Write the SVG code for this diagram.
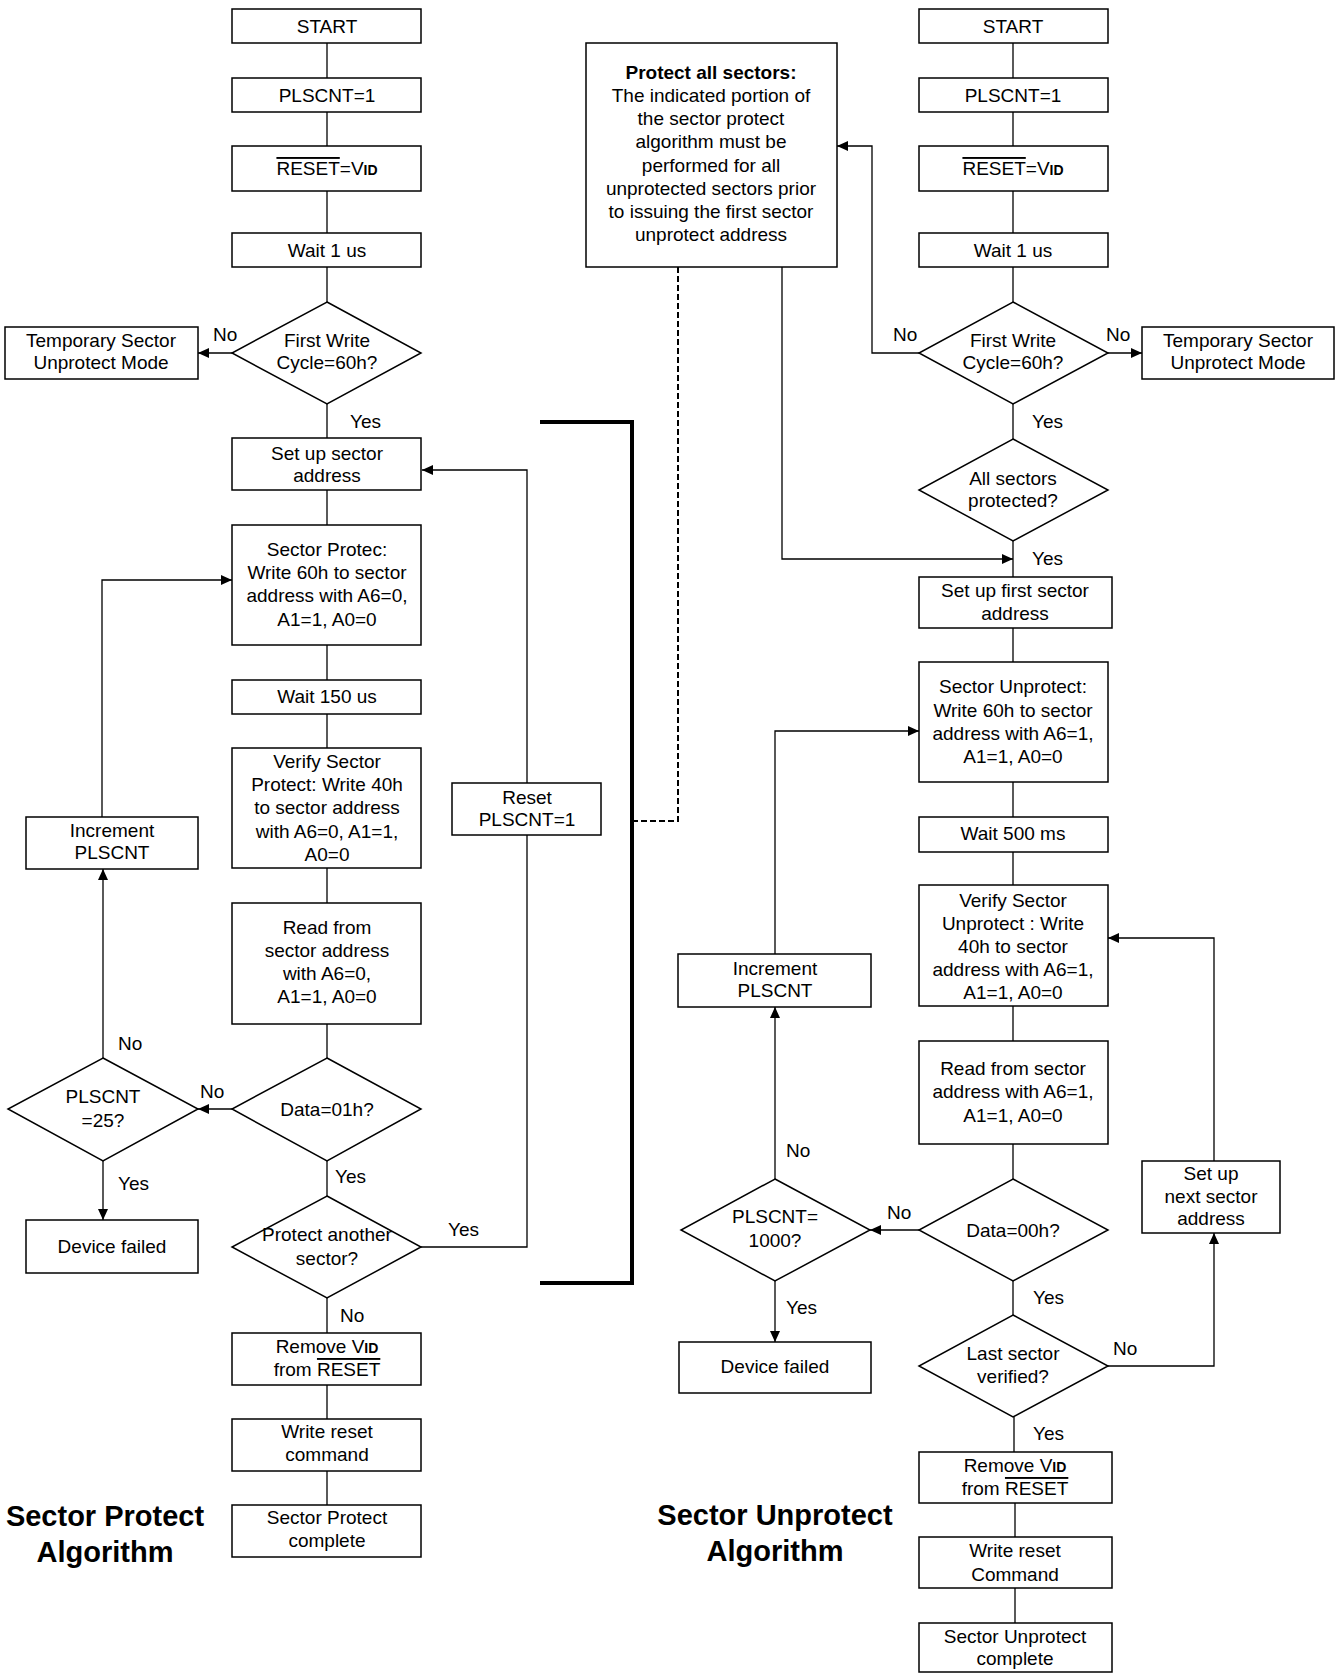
<svg xmlns="http://www.w3.org/2000/svg" width="1340" height="1673" viewBox="0 0 1340 1673">
<style>
.b{fill:#fff;stroke:#000;stroke-width:1.5}
.c{fill:none;stroke:#000;stroke-width:1.3}
.a{fill:none;stroke:#000;stroke-width:1.3;marker-end:url(#ah)}
text{font-family:"Liberation Sans",Arial,sans-serif;font-size:19px;text-anchor:middle;fill:#000}
.l{text-anchor:start}
.t{font-size:29px;font-weight:bold}
.sb{font-size:14px;font-weight:bold}
.ov{text-decoration:overline}
</style>
<defs>
<marker id="ah" markerUnits="userSpaceOnUse" markerWidth="11" markerHeight="10" refX="11" refY="5" orient="auto">
<path d="M0,0 L11,5 L0,10 z" fill="#000"/>
</marker>
</defs>
<rect width="1340" height="1673" fill="#fff"/>

<g id="connectors">
<!-- left column -->
<line class="c" x1="327" y1="43" x2="327" y2="78"/>
<line class="c" x1="327" y1="112" x2="327" y2="146"/>
<line class="c" x1="327" y1="191" x2="327" y2="233"/>
<line class="c" x1="327" y1="267" x2="327" y2="302"/>
<line class="a" x1="232" y1="353" x2="198" y2="353"/>
<line class="c" x1="327" y1="404" x2="327" y2="438"/>
<line class="c" x1="327" y1="490" x2="327" y2="525"/>
<line class="c" x1="327" y1="645" x2="327" y2="680"/>
<line class="c" x1="327" y1="714" x2="327" y2="748"/>
<line class="c" x1="327" y1="868" x2="327" y2="903"/>
<line class="c" x1="327" y1="1024" x2="327" y2="1058"/>
<line class="a" x1="232" y1="1109" x2="198" y2="1109"/>
<line class="a" x1="103" y1="1058" x2="103" y2="869"/>
<polyline class="a" points="102,817 102,580 232,580"/>
<line class="a" x1="103" y1="1161" x2="103" y2="1220"/>
<line class="c" x1="327" y1="1161" x2="327" y2="1196"/>
<polyline class="a" points="421,1247 527,1247 527,470 422,470"/>
<line class="c" x1="327" y1="1298" x2="327" y2="1333"/>
<line class="c" x1="327" y1="1385" x2="327" y2="1419"/>
<line class="c" x1="327" y1="1471" x2="327" y2="1505"/>
<!-- bracket and dashed -->
<polyline points="540,422 632,422 632,1283 540,1283" fill="none" stroke="#000" stroke-width="4"/>
<polyline points="632,821 678,821 678,267" fill="none" stroke="#000" stroke-width="2" stroke-dasharray="6,3"/>
<!-- right column -->
<line class="c" x1="1013" y1="43" x2="1013" y2="78"/>
<line class="c" x1="1013" y1="112" x2="1013" y2="146"/>
<line class="c" x1="1013" y1="191" x2="1013" y2="233"/>
<line class="c" x1="1013" y1="267" x2="1013" y2="302"/>
<line class="a" x1="1108" y1="353" x2="1142" y2="353"/>
<polyline class="a" points="919,353 872,353 872,146 837,146"/>
<line class="c" x1="1013" y1="404" x2="1013" y2="439"/>
<line class="c" x1="1013" y1="541" x2="1013" y2="577"/>
<polyline class="a" points="782,267 782,559 1013,559"/>
<line class="c" x1="1013" y1="628" x2="1013" y2="662"/>
<line class="c" x1="1013" y1="782" x2="1013" y2="817"/>
<line class="c" x1="1013" y1="852" x2="1013" y2="885"/>
<line class="c" x1="1013" y1="1006" x2="1013" y2="1041"/>
<line class="c" x1="1013" y1="1144" x2="1013" y2="1179"/>
<line class="a" x1="919" y1="1230" x2="870" y2="1230"/>
<line class="a" x1="775" y1="1179" x2="775" y2="1007"/>
<polyline class="a" points="775,954 775,731 919,731"/>
<line class="a" x1="775" y1="1281" x2="775" y2="1342"/>
<line class="c" x1="1013" y1="1281" x2="1013" y2="1315"/>
<polyline class="a" points="1108,1366 1214,1366 1214,1233"/>
<polyline class="a" points="1214,1161 1214,938 1108,938"/>
<line class="c" x1="1014" y1="1417" x2="1014" y2="1452"/>
<line class="c" x1="1015" y1="1503" x2="1015" y2="1537"/>
<line class="c" x1="1015" y1="1588" x2="1015" y2="1623"/>
</g>

<g id="edge-labels">
<text class="l" x="213" y="341">No</text>
<text class="l" x="350" y="428">Yes</text>
<text class="l" x="118" y="1050">No</text>
<text class="l" x="200" y="1098">No</text>
<text class="l" x="118" y="1190">Yes</text>
<text class="l" x="335" y="1183">Yes</text>
<text class="l" x="448" y="1236">Yes</text>
<text class="l" x="340" y="1322">No</text>
<text class="l" x="893" y="341">No</text>
<text class="l" x="1106" y="341">No</text>
<text class="l" x="1032" y="428">Yes</text>
<text class="l" x="1032" y="565">Yes</text>
<text class="l" x="786" y="1157">No</text>
<text class="l" x="887" y="1219">No</text>
<text class="l" x="786" y="1314">Yes</text>
<text class="l" x="1033" y="1304">Yes</text>
<text class="l" x="1113" y="1355">No</text>
<text class="l" x="1033" y="1440">Yes</text>
</g>

<!-- Left: Sector Protect -->
<g id="l-start"><rect class="b" x="232" y="9" width="189" height="34"/><text x="327" y="33">START</text></g>
<g id="l-plscnt1"><rect class="b" x="232" y="78" width="189" height="34"/><text x="327" y="102">PLSCNT=1</text></g>
<g id="l-reset"><rect class="b" x="232" y="146" width="189" height="45"/><text x="327" y="175"><tspan class="ov">RESET</tspan>=V<tspan class="sb">ID</tspan></text></g>
<g id="l-wait1"><rect class="b" x="232" y="233" width="189" height="34"/><text x="327" y="257">Wait 1 us</text></g>
<g id="l-firstwrite"><polygon class="b" points="327,302 421,353 327,404 232,353"/><text x="327" y="347">First Write</text><text x="327" y="369">Cycle=60h?</text></g>
<g id="l-temp"><rect class="b" x="5" y="327" width="193" height="52"/><text x="101" y="347">Temporary Sector</text><text x="101" y="369">Unprotect Mode</text></g>
<g id="l-setup"><rect class="b" x="232" y="438" width="189" height="52"/><text x="327" y="460">Set up sector</text><text x="327" y="482">address</text></g>
<g id="l-protec"><rect class="b" x="232" y="525" width="189" height="120"/><text x="327" y="556">Sector Protec:</text><text x="327" y="579">Write 60h to sector</text><text x="327" y="602">address with A6=0,</text><text x="327" y="626">A1=1, A0=0</text></g>
<g id="l-wait150"><rect class="b" x="232" y="680" width="189" height="34"/><text x="327" y="703">Wait 150 us</text></g>
<g id="l-verify"><rect class="b" x="232" y="748" width="189" height="120"/><text x="327" y="768">Verify Sector</text><text x="327" y="791">Protect: Write 40h</text><text x="327" y="814">to sector address</text><text x="327" y="838">with A6=0, A1=1,</text><text x="327" y="861">A0=0</text></g>
<g id="l-increment"><rect class="b" x="26" y="817" width="172" height="52"/><text x="112" y="837">Increment</text><text x="112" y="859">PLSCNT</text></g>
<g id="l-read"><rect class="b" x="232" y="903" width="189" height="121"/><text x="327" y="934">Read from</text><text x="327" y="957">sector address</text><text x="327" y="980">with A6=0,</text><text x="327" y="1003">A1=1, A0=0</text></g>
<g id="l-data01"><polygon class="b" points="327,1058 421,1109 327,1161 232,1109"/><text x="327" y="1116">Data=01h?</text></g>
<g id="l-plscnt25"><polygon class="b" points="103,1058 198,1109 103,1161 8,1109"/><text x="103" y="1103">PLSCNT</text><text x="103" y="1127">=25?</text></g>
<g id="l-failed"><rect class="b" x="26" y="1220" width="172" height="53"/><text x="112" y="1253">Device failed</text></g>
<g id="l-another"><polygon class="b" points="327,1196 421,1247 327,1298 232,1247"/><text x="327" y="1241">Protect another</text><text x="327" y="1265">sector?</text></g>
<g id="l-resetbox"><rect class="b" x="452" y="783" width="149" height="52"/><text x="527" y="804">Reset</text><text x="527" y="826">PLSCNT=1</text></g>
<g id="l-remove"><rect class="b" x="232" y="1333" width="189" height="52"/><text x="327" y="1353">Remove V<tspan class="sb">ID</tspan></text><text x="327" y="1376">from <tspan class="ov">RESET</tspan></text></g>
<g id="l-writereset"><rect class="b" x="232" y="1419" width="189" height="52"/><text x="327" y="1438">Write reset</text><text x="327" y="1461">command</text></g>
<g id="l-complete"><rect class="b" x="232" y="1505" width="189" height="52"/><text x="327" y="1524">Sector Protect</text><text x="327" y="1547">complete</text></g>
<g id="l-title"><text class="t" x="105" y="1526">Sector Protect</text><text class="t" x="105" y="1562">Algorithm</text></g>

<!-- Middle note -->
<g id="note"><rect class="b" x="586" y="43" width="251" height="224"/>
<text x="711" y="79" font-weight="bold">Protect all sectors:</text>
<text x="711" y="102">The indicated portion of</text>
<text x="711" y="125">the sector protect</text>
<text x="711" y="148">algorithm must be</text>
<text x="711" y="172">performed for all</text>
<text x="711" y="195">unprotected sectors prior</text>
<text x="711" y="218">to issuing the first sector</text>
<text x="711" y="241">unprotect address</text></g>

<!-- Right: Sector Unprotect -->
<g id="r-start"><rect class="b" x="919" y="9" width="189" height="34"/><text x="1013" y="33">START</text></g>
<g id="r-plscnt1"><rect class="b" x="919" y="78" width="189" height="34"/><text x="1013" y="102">PLSCNT=1</text></g>
<g id="r-reset"><rect class="b" x="919" y="146" width="189" height="45"/><text x="1013" y="175"><tspan class="ov">RESET</tspan>=V<tspan class="sb">ID</tspan></text></g>
<g id="r-wait1"><rect class="b" x="919" y="233" width="189" height="34"/><text x="1013" y="257">Wait 1 us</text></g>
<g id="r-firstwrite"><polygon class="b" points="1013,302 1108,353 1013,404 919,353"/><text x="1013" y="347">First Write</text><text x="1013" y="369">Cycle=60h?</text></g>
<g id="r-temp"><rect class="b" x="1142" y="327" width="192" height="52"/><text x="1238" y="347">Temporary Sector</text><text x="1238" y="369">Unprotect Mode</text></g>
<g id="r-allsectors"><polygon class="b" points="1013,439 1108,490 1013,541 919,490"/><text x="1013" y="485">All sectors</text><text x="1013" y="507">protected?</text></g>
<g id="r-setupfirst"><rect class="b" x="919" y="577" width="193" height="51"/><text x="1015" y="597">Set up first sector</text><text x="1015" y="620">address</text></g>
<g id="r-unprotect"><rect class="b" x="919" y="662" width="189" height="120"/><text x="1013" y="693">Sector Unprotect:</text><text x="1013" y="717">Write 60h to sector</text><text x="1013" y="740">address with A6=1,</text><text x="1013" y="763">A1=1, A0=0</text></g>
<g id="r-wait500"><rect class="b" x="919" y="817" width="189" height="35"/><text x="1013" y="840">Wait 500 ms</text></g>
<g id="r-verify"><rect class="b" x="919" y="885" width="189" height="121"/><text x="1013" y="907">Verify Sector</text><text x="1013" y="930">Unprotect : Write</text><text x="1013" y="953">40h to sector</text><text x="1013" y="976">address with A6=1,</text><text x="1013" y="999">A1=1, A0=0</text></g>
<g id="r-read"><rect class="b" x="919" y="1041" width="189" height="103"/><text x="1013" y="1075">Read from sector</text><text x="1013" y="1098">address with A6=1,</text><text x="1013" y="1122">A1=1, A0=0</text></g>
<g id="r-data00"><polygon class="b" points="1013,1179 1108,1230 1013,1281 919,1230"/><text x="1013" y="1237">Data=00h?</text></g>
<g id="r-plscnt1000"><polygon class="b" points="775,1179 870,1230 775,1281 681,1230"/><text x="775" y="1223">PLSCNT=</text><text x="775" y="1247">1000?</text></g>
<g id="r-increment"><rect class="b" x="678" y="954" width="193" height="53"/><text x="775" y="975">Increment</text><text x="775" y="997">PLSCNT</text></g>
<g id="r-failed"><rect class="b" x="679" y="1342" width="192" height="51"/><text x="775" y="1373">Device failed</text></g>
<g id="r-last"><polygon class="b" points="1013,1315 1108,1366 1013,1417 919,1366"/><text x="1013" y="1360">Last sector</text><text x="1013" y="1383">verified?</text></g>
<g id="r-setupnext"><rect class="b" x="1142" y="1161" width="138" height="72"/><text x="1211" y="1180">Set up</text><text x="1211" y="1203">next sector</text><text x="1211" y="1225">address</text></g>
<g id="r-remove"><rect class="b" x="919" y="1452" width="193" height="51"/><text x="1015" y="1472">Remove V<tspan class="sb">ID</tspan></text><text x="1015" y="1495">from <tspan class="ov">RESET</tspan></text></g>
<g id="r-writereset"><rect class="b" x="919" y="1537" width="193" height="51"/><text x="1015" y="1557">Write reset</text><text x="1015" y="1581">Command</text></g>
<g id="r-complete"><rect class="b" x="919" y="1623" width="193" height="49"/><text x="1015" y="1643">Sector Unprotect</text><text x="1015" y="1665">complete</text></g>
<g id="r-title"><text class="t" x="775" y="1525">Sector Unprotect</text><text class="t" x="775" y="1561">Algorithm</text></g>
</svg>
